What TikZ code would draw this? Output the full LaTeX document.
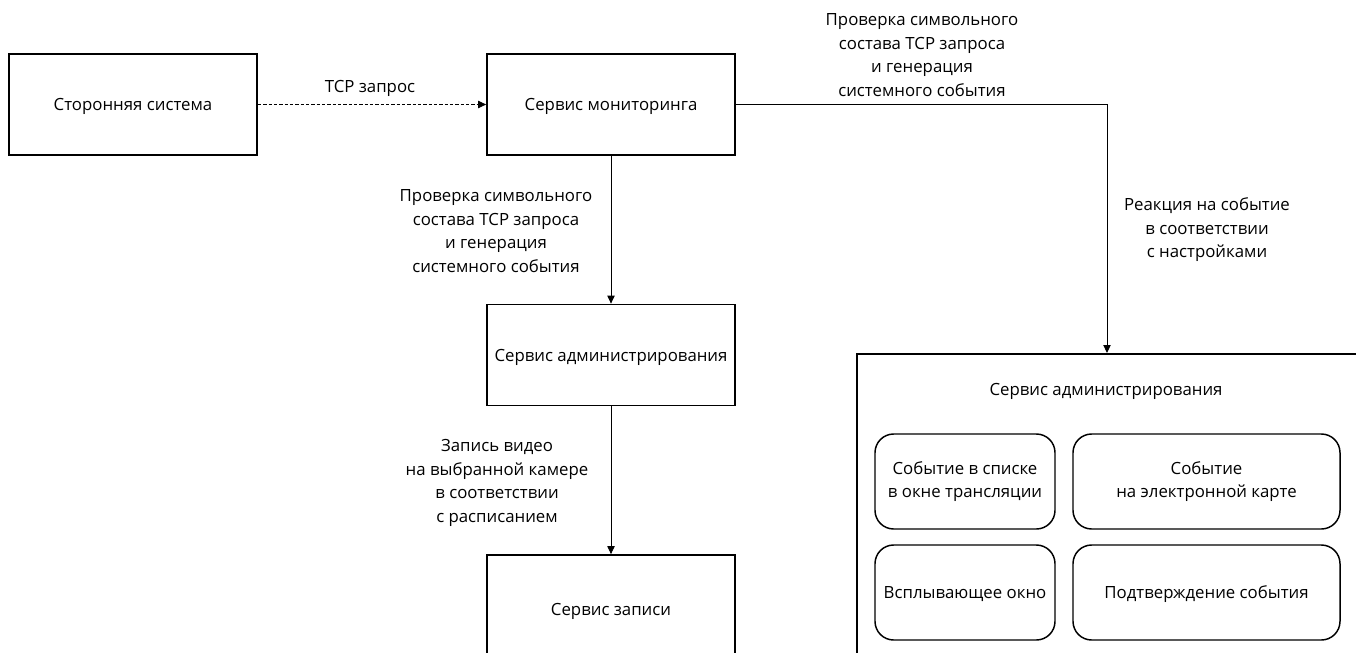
\documentclass[tikz,border=0pt]{standalone}
\usepackage{fontspec}
\setmainfont{Open Sans}
\usetikzlibrary{arrows.meta}

\tikzset{
  box/.style={draw=black, line width=1.3pt, minimum width=186pt, minimum height=75.75pt, inner sep=0pt, text depth=0pt},
  subbox/.style={draw=black, line width=1.1pt, rounded corners=14pt, minimum height=71.25pt, align=center, inner sep=0pt},
  lbl/.style={align=center, inner sep=0pt},
  conn/.style={line width=0.7pt, -{Triangle[length=6pt,width=5.5pt]}}
}

\begin{document}
\begin{tikzpicture}[x=0.75pt, y=-0.75pt, font=\fontsize{12.6}{17.6}\selectfont]
    \useasboundingbox (0, 0) rectangle (1356, 653);
    \clip (0, 0) rectangle (1356, 653);

    % main boxes
    \node[box] (ext) at (133, 104.5) {Сторонняя система};
    \node[box] (mon) at (611, 104.5) {Сервис мониторинга};
    \node[box] (adm) at (611, 355) {Сервис администрирования};
    \node[box] (rec) at (611, 605.5) {};
    \node[text depth=0pt] at (611, 609) {Сервис записи};

    % big admin box with its parts
    \node[draw=black, line width=1.3pt, minimum width=375pt, minimum height=232.5pt, anchor=north] (admbig) at (1107, 353) {};
    \node[text depth=0pt] (admtitle) at (1106, 389) {Сервис администрирования};
    \node[subbox, minimum width=135pt] (evlist) at (965, 481.5) {Событие в списке\\в окне трансляции};
    \node[subbox, minimum width=200.25pt] (evmap) at (1206.5, 481.5) {Событие\\на электронной карте};
    \node[subbox, minimum width=135pt, text depth=0pt] (popup) at (965, 592.5) {Всплывающее окно};
    \node[subbox, minimum width=200.25pt, text depth=0pt] (confirm) at (1206.5, 592.5) {Подтверждение события};

    % connectors
    \draw[conn, dashed, dash pattern=on 2.5pt off 1.5pt] (ext.east) -- (mon.west);
    \draw[conn] (mon.south) -- (adm.north);
    \draw[conn] (adm.south) -- (rec.north);
    \draw[conn] (mon.east) -| (admbig.north);

    % labels
    \node[lbl] (tcp) at (370, 88) {TCP запрос};
    \node[lbl] (chk1) at (922, 55) {Проверка символьного\\состава TCP запроса\\и генерация\\системного события};
    \node[lbl] (chk2) at (496, 231) {Проверка символьного\\состава TCP запроса\\и генерация\\системного события};
    \node[lbl] (vid) at (497, 483) {Запись видео\\на выбранной камере\\в соответствии\\с расписанием};
    \node[lbl] (react) at (1207, 230) {Реакция на событие\\в соответствии\\с настройками};
\end{tikzpicture}
\end{document}
